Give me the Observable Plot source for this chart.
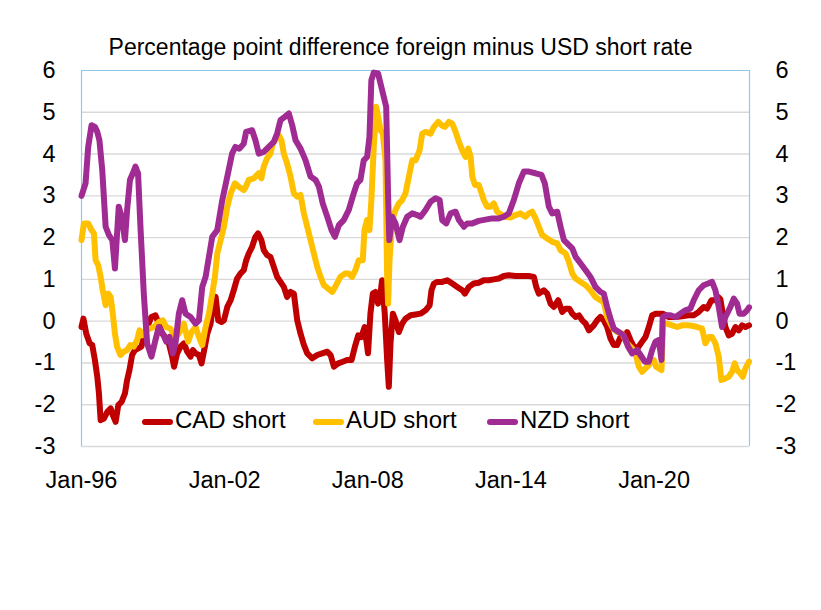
<!DOCTYPE html>
<html>
<head>
<meta charset="utf-8">
<script src="https://cdn.jsdelivr.net/npm/d3@7"></script>
<script src="https://cdn.jsdelivr.net/npm/@observablehq/plot@0.6"></script>
<style>
  html, body { margin: 0; padding: 0; background: #fff; }
  #wrap { position: relative; width: 821px; height: 610px; font-family: "Liberation Sans", Arial, sans-serif; color: #000; }
  #title { position: absolute; left: 0; width: 801px; top: 36px; text-align: center; font-size: 23px; line-height: 1; white-space: nowrap; }
  .leg { position: absolute; top: 408px; font-size: 24px; line-height: 24px; white-space: nowrap; }
  .sw { display: inline-block; width: 31px; height: 6px; border-radius: 3px; vertical-align: middle; margin-right: 2px; position: relative; top: 0px; }
</style>
</head>
<body>
<div id="wrap">
  <div id="chart"></div>
  <div id="title">Percentage point difference foreign minus USD short rate</div>
  <div id="legend"></div>
</div>
<script>
// ---- data (decimal year, percentage points) ----
const seriesNames = ["CAD short", "AUD short", "NZD short"];
const seriesColors = ["#C00000", "#FFC000", "#A02B93"];
const yTicks = [-3, -2, -1, 0, 1, 2, 3, 4, 5, 6];
const xTickYears = [1996, 2002, 2008, 2014, 2020];

const cadShort = [[1996.00,-0.14],[1996.08,0.06],[1996.2,-0.3],[1996.34,-0.53],[1996.45,-0.57],[1996.56,-0.93],[1996.66,-1.33],[1996.73,-1.73],[1996.80,-2.37],[1996.94,-2.33],[1997.08,-2.17],[1997.22,-2.09],[1997.31,-2.25],[1997.43,-2.41],[1997.54,-2.01],[1997.68,-1.93],[1997.82,-1.73],[1997.91,-1.41],[1998.01,-1.17],[1998.12,-0.81],[1998.24,-0.69],[1998.38,-0.65],[1998.51,-0.61],[1998.61,-0.38],[1998.75,-0.14],[1998.93,0.1],[1999.10,0.14],[1999.24,-0.06],[1999.38,-0.3],[1999.52,-0.38],[1999.66,-0.53],[1999.80,-0.85],[1999.88,-1.09],[2000.01,-0.77],[2000.15,-0.61],[2000.29,-0.53],[2000.43,-0.73],[2000.57,-0.85],[2000.67,-0.69],[2000.78,-0.77],[2000.92,-0.81],[2001.03,-1.01],[2001.17,-0.61],[2001.27,-0.3],[2001.41,-0.06],[2001.52,0.42],[2001.62,0.58],[2001.73,0.02],[2001.87,-0.02],[2001.97,0.02],[2002.11,0.34],[2002.25,0.5],[2002.38,0.74],[2002.52,1.02],[2002.66,1.14],[2002.80,1.22],[2002.90,1.45],[2003.01,1.62],[2003.15,1.78],[2003.29,2.02],[2003.40,2.1],[2003.54,1.94],[2003.64,1.7],[2003.78,1.58],[2003.92,1.54],[2004.06,1.3],[2004.20,1.06],[2004.34,0.94],[2004.48,0.82],[2004.62,0.58],[2004.76,0.7],[2004.90,0.66],[2005.04,0.02],[2005.18,-0.3],[2005.32,-0.57],[2005.46,-0.77],[2005.67,-0.89],[2005.88,-0.81],[2006.09,-0.77],[2006.30,-0.73],[2006.44,-0.81],[2006.58,-1.09],[2006.76,-1.01],[2006.95,-0.97],[2007.13,-0.93],[2007.32,-0.93],[2007.46,-0.61],[2007.60,-0.34],[2007.73,-0.38],[2007.87,-0.14],[2008.01,-0.77],[2008.11,0.18],[2008.21,0.66],[2008.32,0.7],[2008.43,0.42],[2008.53,0.66],[2008.60,0.98],[2008.71,0.18],[2008.81,-0.93],[2008.88,-1.57],[2008.95,-0.53],[2009.05,0.18],[2009.16,0.02],[2009.30,-0.26],[2009.44,-0.06],[2009.58,0.06],[2009.79,0.14],[2010.00,0.16],[2010.21,0.18],[2010.42,0.26],[2010.59,0.38],[2010.67,0.74],[2010.77,0.9],[2010.91,0.94],[2011.12,0.94],[2011.33,0.98],[2011.54,0.9],[2011.75,0.82],[2011.96,0.74],[2012.07,0.66],[2012.24,0.82],[2012.44,0.9],[2012.65,0.92],[2012.86,0.98],[2013.07,0.98],[2013.28,1.0],[2013.49,1.02],[2013.70,1.08],[2013.91,1.1],[2014.19,1.08],[2014.47,1.08],[2014.75,1.08],[2014.96,1.06],[2015.06,0.82],[2015.17,0.66],[2015.38,0.74],[2015.52,0.66],[2015.66,0.42],[2015.80,0.34],[2015.98,0.5],[2016.15,0.22],[2016.29,0.3],[2016.45,0.3],[2016.57,0.18],[2016.71,0.1],[2016.85,0.14],[2016.99,0.02],[2017.13,-0.06],[2017.27,-0.22],[2017.47,-0.1],[2017.61,0.02],[2017.75,0.1],[2017.89,0.02],[2018.03,-0.14],[2018.17,-0.41],[2018.31,-0.57],[2018.45,-0.57],[2018.59,-0.38],[2018.73,-0.41],[2018.87,-0.26],[2019.01,-0.45],[2019.15,-0.61],[2019.29,-0.66],[2019.50,-0.49],[2019.64,-0.38],[2019.78,-0.14],[2019.92,0.14],[2020.09,0.18],[2020.23,0.18],[2020.36,0.18],[2020.62,0.1],[2020.90,0.1],[2021.17,0.12],[2021.45,0.14],[2021.66,0.14],[2021.87,0.22],[2022.08,0.34],[2022.22,0.3],[2022.40,0.5],[2022.57,0.5],[2022.68,0.58],[2022.78,0.52],[2022.88,0.18],[2022.99,-0.14],[2023.13,-0.34],[2023.27,-0.3],[2023.41,-0.14],[2023.55,-0.22],[2023.69,-0.1],[2023.83,-0.14],[2023.98,-0.1]];

const audShort = [[1996.00,1.94],[1996.10,2.34],[1996.28,2.34],[1996.42,2.18],[1996.52,2.1],[1996.59,1.46],[1996.70,1.34],[1996.80,1.06],[1996.89,0.74],[1997.01,0.38],[1997.12,0.66],[1997.22,0.58],[1997.31,0.18],[1997.40,-0.3],[1997.49,-0.61],[1997.63,-0.81],[1997.77,-0.73],[1997.91,-0.69],[1998.05,-0.57],[1998.19,-0.61],[1998.33,-0.45],[1998.43,-0.22],[1998.54,-0.34],[1998.68,-0.22],[1998.85,-0.18],[1999.03,-0.14],[1999.24,-0.02],[1999.41,0.02],[1999.55,-0.14],[1999.73,-0.18],[1999.94,-0.41],[2000.11,-0.26],[2000.29,-0.06],[2000.47,-0.49],[2000.61,-0.26],[2000.78,-0.14],[2000.92,-0.38],[2001.06,-0.57],[2001.20,-0.14],[2001.34,0.18],[2001.48,0.66],[2001.59,1.06],[2001.69,1.62],[2001.83,1.94],[2001.97,2.26],[2002.11,2.74],[2002.25,3.06],[2002.43,3.3],[2002.59,3.22],[2002.80,3.14],[2002.87,3.2],[2003.01,3.38],[2003.22,3.42],[2003.43,3.54],[2003.54,3.42],[2003.64,3.7],[2003.78,3.9],[2003.92,4.01],[2004.02,4.25],[2004.20,4.41],[2004.27,4.45],[2004.38,4.33],[2004.48,4.01],[2004.62,3.77],[2004.76,3.46],[2004.90,3.06],[2005.04,2.98],[2005.18,3.02],[2005.32,2.58],[2005.46,2.26],[2005.60,1.94],[2005.74,1.62],[2005.88,1.3],[2006.02,1.06],[2006.16,0.86],[2006.34,0.78],[2006.51,0.7],[2006.67,0.86],[2006.85,1.06],[2007.04,1.14],[2007.20,1.14],[2007.34,1.06],[2007.48,1.22],[2007.62,1.46],[2007.79,1.46],[2007.86,2.18],[2007.97,2.42],[2008.07,2.18],[2008.15,2.9],[2008.25,4.17],[2008.35,5.13],[2008.46,4.81],[2008.53,4.57],[2008.63,4.49],[2008.74,3.85],[2008.81,1.06],[2008.85,0.42],[2008.91,1.46],[2009.02,2.42],[2009.16,2.66],[2009.30,2.82],[2009.44,2.9],[2009.58,3.06],[2009.75,3.54],[2009.86,3.85],[2010.00,3.85],[2010.17,4.09],[2010.28,4.49],[2010.42,4.53],[2010.63,4.49],[2010.77,4.65],[2010.95,4.77],[2011.09,4.69],[2011.23,4.65],[2011.40,4.77],[2011.54,4.73],[2011.68,4.53],[2011.82,4.29],[2011.96,4.09],[2012.10,3.93],[2012.21,4.13],[2012.31,3.93],[2012.38,3.46],[2012.49,3.26],[2012.65,3.26],[2012.77,3.06],[2012.86,2.9],[2013.00,2.74],[2013.14,2.74],[2013.28,2.82],[2013.42,2.62],[2013.56,2.56],[2013.77,2.5],[2013.98,2.48],[2014.19,2.54],[2014.40,2.58],[2014.61,2.5],[2014.75,2.58],[2014.89,2.62],[2015.03,2.46],[2015.17,2.26],[2015.31,2.06],[2015.52,1.98],[2015.73,1.9],[2015.94,1.86],[2016.08,1.7],[2016.29,1.62],[2016.43,1.42],[2016.57,1.14],[2016.71,1.02],[2016.92,0.94],[2017.13,0.86],[2017.33,0.74],[2017.54,0.58],[2017.75,0.5],[2017.89,0.46],[2018.03,0.1],[2018.24,-0.14],[2018.45,-0.26],[2018.66,-0.3],[2018.87,-0.53],[2019.08,-0.65],[2019.22,-0.77],[2019.36,-1.09],[2019.50,-1.21],[2019.64,-1.13],[2019.78,-1.05],[2019.89,-0.93],[2019.99,-0.93],[2020.08,-1.09],[2020.20,-1.13],[2020.31,-1.17],[2020.38,-0.06],[2020.55,-0.06],[2020.76,-0.1],[2020.97,-0.14],[2021.17,-0.1],[2021.38,-0.1],[2021.59,-0.11],[2021.80,-0.14],[2022.01,-0.18],[2022.15,-0.53],[2022.29,-0.38],[2022.43,-0.38],[2022.57,-0.53],[2022.71,-0.85],[2022.82,-1.41],[2022.99,-1.37],[2023.13,-1.33],[2023.27,-1.21],[2023.38,-1.01],[2023.48,-1.17],[2023.62,-1.25],[2023.72,-1.33],[2023.83,-1.13],[2023.98,-0.97]];

const nzdShort = [[1996.00,3.0],[1996.17,3.3],[1996.28,4.17],[1996.42,4.69],[1996.56,4.65],[1996.66,4.53],[1996.75,4.33],[1996.87,3.6],[1997.01,2.26],[1997.15,2.06],[1997.29,1.94],[1997.40,1.26],[1997.49,2.1],[1997.56,2.74],[1997.68,2.5],[1997.82,1.94],[1997.91,2.66],[1998.03,3.38],[1998.15,3.54],[1998.26,3.7],[1998.37,3.54],[1998.47,2.26],[1998.61,0.66],[1998.75,-0.53],[1998.93,-0.85],[1999.10,-0.45],[1999.24,-0.14],[1999.41,-0.3],[1999.55,-0.49],[1999.69,-0.38],[1999.83,-0.77],[1999.94,-0.53],[2000.08,0.18],[2000.22,0.5],[2000.36,0.18],[2000.57,0.1],[2000.78,-0.06],[2000.92,0.02],[2001.06,0.82],[2001.20,1.06],[2001.34,1.54],[2001.48,2.02],[2001.69,2.18],[2001.90,2.9],[2002.11,3.46],[2002.31,4.01],[2002.45,4.17],[2002.62,4.13],[2002.80,4.25],[2002.90,4.53],[2003.15,4.57],[2003.29,4.33],[2003.43,4.01],[2003.64,4.05],[2003.85,4.17],[2004.06,4.29],[2004.20,4.49],[2004.34,4.81],[2004.52,4.89],[2004.69,4.97],[2004.83,4.69],[2004.97,4.33],[2005.18,4.13],[2005.39,3.85],[2005.60,3.46],[2005.81,3.38],[2005.95,3.22],[2006.11,2.82],[2006.30,2.5],[2006.48,2.18],[2006.62,2.02],[2006.79,2.3],[2006.99,2.42],[2007.20,2.66],[2007.41,3.06],[2007.55,3.3],[2007.69,3.38],[2007.83,3.85],[2007.97,3.93],[2008.07,4.41],[2008.15,5.77],[2008.25,5.95],[2008.43,5.93],[2008.60,5.53],[2008.77,5.13],[2008.85,3.0],[2008.90,1.94],[2009.02,2.5],[2009.16,2.34],[2009.33,1.94],[2009.47,2.26],[2009.65,2.5],[2009.86,2.58],[2010.07,2.54],[2010.21,2.5],[2010.42,2.66],[2010.63,2.86],[2010.84,2.94],[2011.01,2.9],[2011.12,2.42],[2011.29,2.34],[2011.47,2.58],[2011.68,2.62],[2011.82,2.42],[2012.03,2.26],[2012.17,2.34],[2012.38,2.34],[2012.65,2.4],[2012.93,2.43],[2013.21,2.46],[2013.49,2.46],[2013.70,2.5],[2013.91,2.58],[2014.12,2.9],[2014.33,3.3],[2014.54,3.58],[2014.75,3.58],[2015.03,3.54],[2015.28,3.5],[2015.42,3.3],[2015.59,2.74],[2015.73,2.58],[2015.94,2.62],[2016.08,2.26],[2016.22,1.94],[2016.43,1.82],[2016.57,1.74],[2016.71,1.54],[2016.92,1.38],[2017.13,1.22],[2017.33,1.06],[2017.54,0.82],[2017.75,0.7],[2017.89,0.66],[2018.03,0.34],[2018.17,0.06],[2018.31,-0.18],[2018.52,-0.26],[2018.73,-0.34],[2018.91,-0.61],[2019.08,-0.77],[2019.29,-0.69],[2019.43,-0.81],[2019.61,-0.97],[2019.78,-0.97],[2019.92,-0.69],[2020.06,-0.49],[2020.20,-0.45],[2020.31,-0.93],[2020.36,0.1],[2020.48,0.14],[2020.69,0.14],[2020.90,0.1],[2021.10,0.18],[2021.31,0.26],[2021.52,0.3],[2021.66,0.5],[2021.87,0.74],[2022.08,0.86],[2022.26,0.9],[2022.43,0.94],[2022.57,0.74],[2022.71,0.34],[2022.85,-0.14],[2022.99,0.1],[2023.20,0.34],[2023.34,0.54],[2023.48,0.42],[2023.58,0.18],[2023.76,0.18],[2023.90,0.26],[2023.98,0.33]];

// ---- helpers ----
function yearToDate(y) {
  const y0 = Math.floor(y);
  const a = Date.UTC(y0, 0, 1), b = Date.UTC(y0 + 1, 0, 1);
  return new Date(a + (y - y0) * (b - a));
}
const allSeries = [cadShort, audShort, nzdShort];
const rows = allSeries.flatMap((s, i) => s.map(([t, v]) => ({series: seriesNames[i], date: yearToDate(t), value: v})));
const xDomain = [yearToDate(1996), yearToDate(2024)];
const xTicks = xTickYears.map(yearToDate);
const grid = "#d9d9d9", border = "#8fc9e6";
const font = '"Liberation Sans", Arial, sans-serif';

const chart = Plot.plot({
  width: 821,
  height: 520,
  marginLeft: 81,
  marginRight: 72,
  marginTop: 70,
  marginBottom: 74,
  style: {fontFamily: font, fontSize: "23.5px", color: "#000", background: "transparent", overflow: "visible"},
  x: {type: "utc", domain: xDomain},
  y: {domain: [-3, 6]},
  marks: [
    Plot.ruleY(yTicks.filter(d => d < 6), {stroke: grid, strokeWidth: 1.4}),
    Plot.ruleY([6], {stroke: border, strokeWidth: 1.2}),
    Plot.ruleX(xDomain, {y1: -3, y2: 6, stroke: border, strokeWidth: 1.2}),
    Plot.axisY(yTicks, {anchor: "left", tickSize: 0, tickPadding: 26, tickFormat: d => String(d), label: null, fontSize: 23.5}),
    Plot.axisY(yTicks, {anchor: "right", tickSize: 0, tickPadding: 26, tickFormat: d => String(d), label: null, fontSize: 23.5}),
    Plot.axisX(xTicks, {anchor: "bottom", tickSize: 0, tickPadding: 25, tickFormat: d => "Jan-" + String(d.getUTCFullYear()).slice(2), label: null, fontSize: 23.5}),
    ...seriesNames.map((name, i) => Plot.line(rows.filter(r => r.series === name), {
      x: "date", y: "value", stroke: seriesColors[i], strokeWidth: 6,
      strokeLinejoin: "round", strokeLinecap: "round"
    }))
  ]
});
document.getElementById("chart").appendChild(chart);

// legend (inside plot area, like the original)
const legPos = [142, 313, 487];
const legend = document.getElementById("legend");
seriesNames.forEach((name, i) => {
  const d = document.createElement("div");
  d.className = "leg";
  d.style.left = legPos[i] + "px";
  d.innerHTML = `<span class="sw" style="background:${seriesColors[i]}"></span>${name}`;
  legend.appendChild(d);
});
</script>
</body>
</html>
